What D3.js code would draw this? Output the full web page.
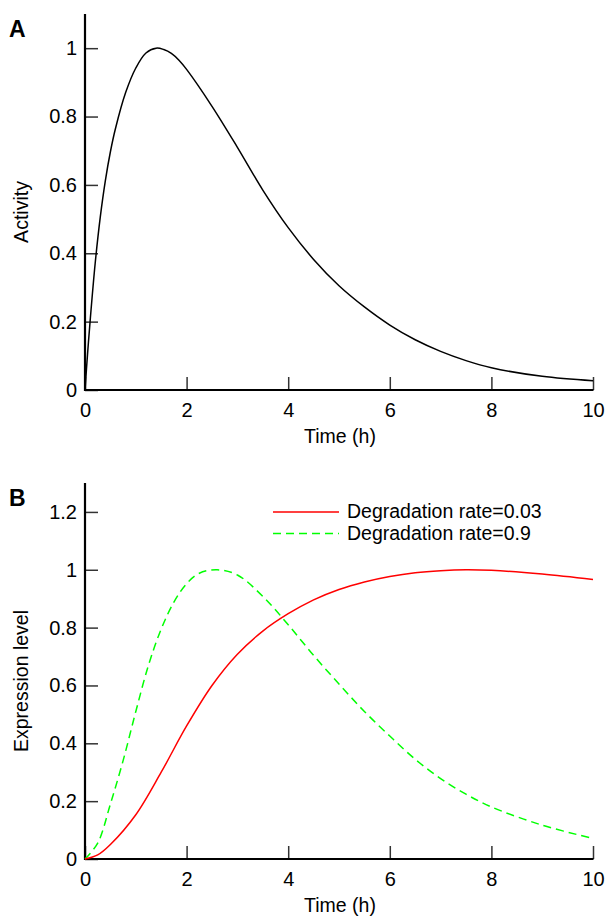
<!DOCTYPE html>
<html><head><meta charset="utf-8">
<script src="https://cdn.jsdelivr.net/npm/d3@7"></script>
<style>body{margin:0;background:#fff}svg{display:block}text{font-family:"Liberation Sans",Arial,sans-serif;fill:#000}</style>
</head><body>
<script>
// Panel A: activity over time
const timeA = [0, 0.05, 0.1, 0.2, 0.3, 0.4, 0.5, 0.6, 0.8, 1.0, 1.2, 1.4, 1.55, 1.7, 1.85, 2.0, 2.5, 3.0, 3.5, 4.0, 4.5, 5.0, 5.5, 6.0, 6.5, 7.0, 7.5, 8.0, 9.0, 10];
const activity = [0, 0.105, 0.2, 0.37, 0.505, 0.612, 0.697, 0.765, 0.87, 0.942, 0.986, 1.0, 0.996, 0.985, 0.965, 0.938, 0.83, 0.71, 0.585, 0.475, 0.382, 0.305, 0.243, 0.19, 0.147, 0.113, 0.086, 0.065, 0.04, 0.027];

// Panel B: expression level, degradation rate 0.03 (red)
const timeRed = [0, 0.25, 0.5, 1.0, 1.5, 2.0, 2.5, 3.0, 3.5, 4.0, 4.5, 5.0, 5.5, 6.0, 6.5, 7.0, 7.5, 8.0, 9.0, 10];
const exprRed = [0, 0.014, 0.05, 0.153, 0.3, 0.46, 0.6, 0.708, 0.788, 0.848, 0.896, 0.932, 0.958, 0.977, 0.99, 0.997, 1.0, 0.998, 0.985, 0.966];
// degradation rate 0.9 (green dashed)
const timeGreen = [0, 0.25, 0.5, 0.75, 1.0, 1.25, 1.5, 1.75, 2.0, 2.25, 2.6, 3.0, 3.5, 4.0, 4.5, 5.0, 5.5, 6.0, 6.5, 7.0, 7.5, 8.0, 9.0, 10];
const exprGreen = [0, 0.055, 0.19, 0.34, 0.51, 0.67, 0.795, 0.888, 0.952, 0.988, 1.0, 0.982, 0.908, 0.81, 0.704, 0.605, 0.51, 0.425, 0.345, 0.278, 0.224, 0.18, 0.117, 0.071];

const xTicks = [0, 2, 4, 6, 8, 10];
const yTicksA = [0, 0.2, 0.4, 0.6, 0.8, 1];
const yTicksB = [0, 0.2, 0.4, 0.6, 0.8, 1, 1.2];
const legendLabels = ["Degradation rate=0.03", "Degradation rate=0.9"];

const W = 608, H = 918;
const svg = d3.select("body").append("svg").attr("width", W).attr("height", H);

function panel(cfg) {
  const x = d3.scaleLinear().domain([0, 10]).range([85, 593]);
  const y = d3.scaleLinear().domain([0, cfg.ymax]).range([cfg.y0, cfg.ytop]);
  const g = svg.append("g");
  const ya = g.append("g").attr("transform", "translate(85,0)")
    .call(d3.axisLeft(y).tickValues(cfg.yTicks).tickSize(-13).tickPadding(22).tickFormat(d3.format("~g")));
  ya.select(".domain").remove();
  ya.selectAll(".tick line").attr("stroke", "#333").attr("stroke-width", 1.5);
  ya.selectAll("text").attr("font-size", 20).attr("font-family", "Liberation Sans, Arial, sans-serif").attr("dx", 14);
  const xa = g.append("g").attr("transform", `translate(0,${cfg.y0})`)
    .call(d3.axisBottom(x).tickValues(xTicks).tickSize(-13).tickPadding(8).tickFormat(d3.format("~g")));
  xa.select(".domain").remove();
  xa.selectAll(".tick line").attr("stroke", "#333").attr("stroke-width", 1.5);
  xa.selectAll("text").attr("font-size", 20).attr("font-family", "Liberation Sans, Arial, sans-serif").attr("dy", "0.95em");
  g.append("line").attr("x1", 85).attr("x2", 85).attr("y1", cfg.ytop).attr("y2", cfg.y0 + 1).attr("stroke", "#000").attr("stroke-width", 2.2);
  g.append("line").attr("x1", 84).attr("x2", 593.5).attr("y1", cfg.y0).attr("y2", cfg.y0).attr("stroke", "#000").attr("stroke-width", 2.2);
  g.append("text").attr("x", 340).attr("y", cfg.y0 + 53).attr("text-anchor", "middle").attr("font-size", 19.5).text("Time (h)");
  g.append("text").attr("transform", `translate(28,${(cfg.y0 + cfg.ytop) / 2 + 10}) rotate(-90)`).attr("text-anchor", "middle").attr("font-size", 19.5).text(cfg.ylabel);
  g.append("text").attr("x", 9).attr("y", cfg.ytop + 23).attr("font-size", 23).attr("font-weight", "bold").text(cfg.letter);
  return {x, y, g};
}

const curve = d3.curveCatmullRom.alpha(0.5);

const A = panel({y0: 390, ytop: 14, ymax: 1.1, yTicks: yTicksA, ylabel: "Activity", letter: "A"});
const lineA = d3.line().x((d, i) => A.x(timeA[i])).y(d => A.y(d)).curve(curve);
A.g.append("path").attr("d", lineA(activity)).attr("fill", "none").attr("stroke", "#000").attr("stroke-width", 1.5);

const B = panel({y0: 859, ytop: 483, ymax: 1.3, yTicks: yTicksB, ylabel: "Expression level", letter: "B"});
const lineRed = d3.line().x((d, i) => B.x(timeRed[i])).y(d => B.y(d)).curve(curve);
const lineGreen = d3.line().x((d, i) => B.x(timeGreen[i])).y(d => B.y(d)).curve(curve);
B.g.append("path").attr("d", lineGreen(exprGreen)).attr("fill", "none").attr("stroke", "#00ff00").attr("stroke-width", 1.5).attr("stroke-dasharray", "8,5");
B.g.append("path").attr("d", lineRed(exprRed)).attr("fill", "none").attr("stroke", "#ff0000").attr("stroke-width", 1.5);

const leg = B.g.append("g");
const legColors = ["#ff0000", "#00ff00"], legDash = [null, "8,5"];
legendLabels.forEach((lab, i) => {
  const yy = 512 + i * 21.5;
  leg.append("line").attr("x1", 273).attr("x2", 339).attr("y1", yy).attr("y2", yy)
    .attr("stroke", legColors[i]).attr("stroke-width", 1.5).attr("stroke-dasharray", legDash[i]);
  leg.append("text").attr("x", 347).attr("y", yy + 6).attr("font-size", 19.5).text(lab);
});
</script>
</body></html>
